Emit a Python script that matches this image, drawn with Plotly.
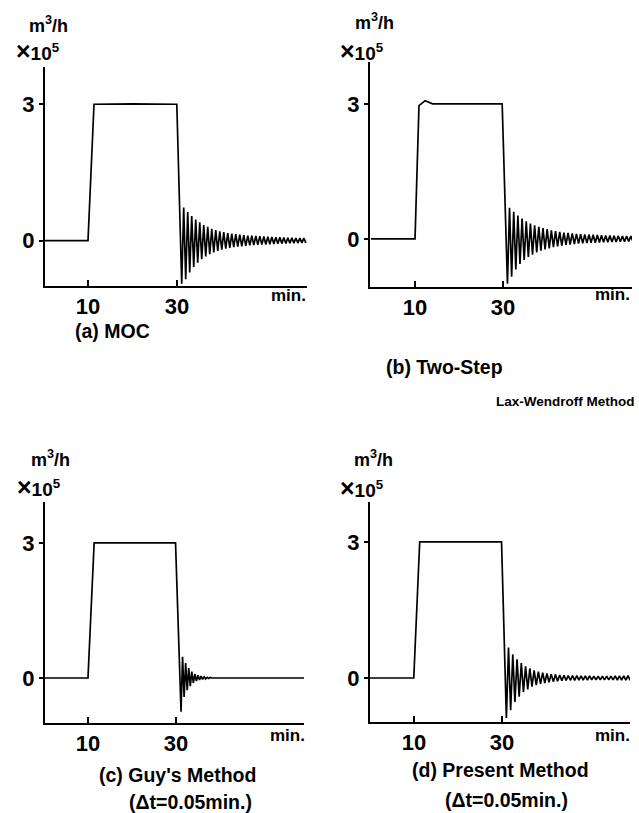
import plotly.graph_objects as go

# ---------------- data ----------------
# time in min, flow in 1e5 m3/h
tick_x_vals = [10, 30]
tick_x_text = ["10", "30"]
tick_y_vals = [0, 3]
tick_y_text = ["0", "3"]

# step part of each panel (before the oscillation)
a_t = [0, 10.0, 11.35, 20.0, 29.95, 31.05]
a_q = [0, 0, 3.0, 3.01, 3.0, -0.95]
b_t = [0, 10.0, 10.9, 12.3, 14.0, 29.8, 31.0]
b_q = [0, 0, 2.96, 3.07, 3.0, 3.0, -1.0]
c_t = [0, 10.0, 11.4, 29.9, 31.15]
c_q = [0, 0, 3.0, 3.0, -0.75]
d_t = [0, 9.95, 11.3, 29.9, 31.0]
d_q = [0, 0, 3.0, 3.0, -0.88]

# oscillation after the drop: period (min) and successive peak / trough values
a_period = 0.9
a_peaks = [0.73, 0.63, 0.54, 0.46, 0.40, 0.34, 0.30, 0.26, 0.23, 0.205, 0.185, 0.165,
           0.15, 0.14, 0.13, 0.12, 0.11, 0.105, 0.10, 0.095, 0.09, 0.085, 0.08, 0.075,
           0.07, 0.067, 0.064, 0.06, 0.057, 0.055, 0.052]
a_troughs = [-0.85, -0.70, -0.58, -0.49, -0.41, -0.35, -0.30, -0.26, -0.23, -0.20, -0.18,
             -0.16, -0.145, -0.135, -0.125, -0.115, -0.105, -0.10, -0.095, -0.09, -0.085,
             -0.08, -0.075, -0.07, -0.067, -0.064, -0.06, -0.057, -0.055, -0.052, -0.05]

b_period = 0.95
b_peaks = [0.69, 0.60, 0.52, 0.45, 0.39, 0.34, 0.30, 0.27, 0.24, 0.215, 0.19, 0.17,
           0.155, 0.14, 0.13, 0.12, 0.11, 0.105, 0.10, 0.095, 0.09, 0.085, 0.08, 0.077,
           0.074, 0.07, 0.068, 0.065, 0.062, 0.06]
b_troughs = [-0.84, -0.68, -0.56, -0.47, -0.40, -0.35, -0.30, -0.265, -0.235, -0.21,
             -0.185, -0.165, -0.15, -0.135, -0.125, -0.115, -0.105, -0.10, -0.095, -0.09,
             -0.085, -0.08, -0.077, -0.074, -0.07, -0.068, -0.065, -0.062, -0.06, -0.058]

c_period = 0.7
c_peaks = [0.47, 0.33, 0.22, 0.14, 0.09, 0.06, 0.04, 0.025, 0.015, 0.01]
c_troughs = [-0.42, -0.27, -0.18, -0.11, -0.07, -0.045, -0.03, -0.02, -0.01, 0.0]
c_end_t = 59.2

d_period = 0.97
d_peaks = [0.67, 0.52, 0.41, 0.33, 0.26, 0.21, 0.17, 0.14, 0.12, 0.10, 0.085, 0.075,
           0.065, 0.06, 0.055, 0.05, 0.05, 0.047, 0.045, 0.045, 0.043, 0.042, 0.042,
           0.042, 0.042, 0.045, 0.045, 0.048, 0.05]
d_troughs = [-0.71, -0.53, -0.41, -0.31, -0.25, -0.19, -0.155, -0.13, -0.11, -0.095,
             -0.08, -0.07, -0.06, -0.055, -0.05, -0.05, -0.047, -0.045, -0.044, -0.043,
             -0.042, -0.042, -0.042, -0.042, -0.043, -0.045, -0.045, -0.048, -0.05]


def build(t0, q0, period, peaks, troughs, end_t=None):
    t = list(t0)
    q = list(q0)
    half = period / 2.0
    tc = t0[-1]
    for p, tr in zip(peaks, troughs):
        tc += half
        t.append(tc)
        q.append(p)
        tc += half
        t.append(tc)
        q.append(tr)
    if end_t is not None:
        t.append(end_t)
        q.append(0.0)
    return t, q


series = [
    build(a_t, a_q, a_period, a_peaks, a_troughs),
    build(b_t, b_q, b_period, b_peaks, b_troughs),
    build(c_t, c_q, c_period, c_peaks, c_troughs, c_end_t),
    build(d_t, d_q, d_period, d_peaks, d_troughs),
]

# ---------------- layout ----------------
W, H = 639, 813
# pixel boxes: (left, right, top, bottom), axis ranges
boxes = [(45, 307, 67, 286), (370, 632, 62, 287), (45, 304, 502, 723), (370, 630, 502, 722)]
xranges = [[0.34, 59.2], [-0.23, 59.3], [0.23, 59.1], [0.0, 59.1]]
yranges = [[-1.0, 3.82], [-1.07, 3.93], [-1.0, 3.91], [-0.97, 3.88]]

FONT = "Liberation Sans, Arial, sans-serif"
fig = go.Figure()
layout = dict(width=W, height=H, margin=dict(l=0, r=0, t=0, b=0),
              paper_bgcolor="white", plot_bgcolor="white", showlegend=False,
              font=dict(family=FONT, color="black", size=16))

for i, ((t, q), (l, r, tp, bt)) in enumerate(zip(series, boxes)):
    n = "" if i == 0 else str(i + 1)
    fig.add_trace(go.Scatter(x=t, y=q, mode="lines", xaxis="x" + n, yaxis="y" + n,
                             line=dict(color="black", width=1.7), hoverinfo="skip"))
    layout["xaxis" + n] = dict(domain=[l / W, r / W], range=xranges[i], anchor="y" + n,
                               showline=True, linecolor="black", linewidth=2,
                               showgrid=False, zeroline=False,
                               tickvals=tick_x_vals,
                               ticktext=["<b>" + s + "</b>" for s in tick_x_text],
                               ticks="inside", ticklen=6, tickwidth=2, tickcolor="black",
                               tickfont=dict(size=22, family=FONT, color="black"))
    layout["yaxis" + n] = dict(domain=[1 - bt / H, 1 - tp / H], range=yranges[i],
                               anchor="x" + n,
                               showline=True, linecolor="black", linewidth=2,
                               showgrid=False, zeroline=False,
                               tickvals=tick_y_vals,
                               ticktext=["<b>" + s + "</b>" for s in tick_y_text],
                               ticks="outside", ticklen=4, tickwidth=2, tickcolor="black",
                               tickfont=dict(size=22, family=FONT, color="black"))

def ann(text, x, y, size, bold=True, xanchor="center"):
    return dict(text=("<b>" + text + "</b>") if bold else text, x=x / W, y=1 - y / H,
                xref="paper", yref="paper", showarrow=False, xanchor=xanchor,
                yanchor="middle", font=dict(size=size, family=FONT, color="black"))

anns = []
unit_pos = [((48, 24), (38, 51)), ((374, 22), (362, 51)), ((50, 458), (39, 487)), ((373, 458), (362, 488))]
for (m, x10) in unit_pos:
    anns.append(ann("m<sup>3</sup>/h", m[0], m[1], 18))
    anns.append(ann("<span style='font-size:25px'>×</span>10<sup>5</sup>", x10[0], x10[1], 19))
for (x, y) in [(288, 295), (612, 294), (287, 735), (612, 735)]:
    anns.append(ann("min.", x, y, 17))

anns.append(ann("(a) MOC", 112, 331, 19.5))
anns.append(ann("(b) Two-Step", 445, 367, 19.5))
anns.append(ann("Lax-Wendroff Method", 637, 402, 13.5, xanchor="right"))
anns.append(ann("(c) Guy's Method", 177, 775, 19.5))
anns.append(ann("(Δt=0.05min.)", 190, 802, 19.5))
anns.append(ann("(d) Present Method", 500, 770, 19.5))
anns.append(ann("(Δt=0.05min.)", 506, 800, 19.5))

layout["annotations"] = anns
fig.update_layout(**layout)
fig.write_html("out.html", config={"displayModeBar": False},
               post_script="document.body.style.margin='0';document.body.style.overflow='hidden';")
